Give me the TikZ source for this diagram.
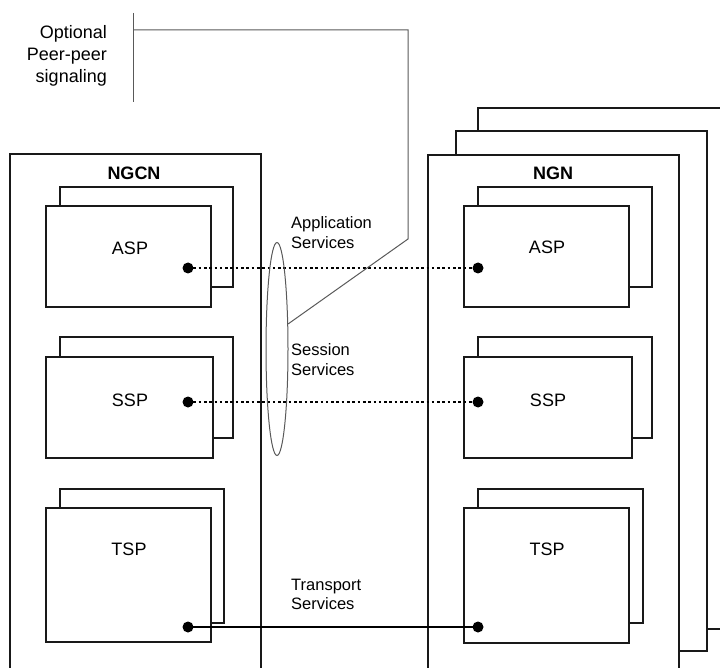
\documentclass[tikz,border=0pt]{standalone}
\usepackage{fontspec}
\setmainfont{Liberation Sans}
\usetikzlibrary{shapes.geometric}
\begin{document}
\begin{tikzpicture}[x=1pt,y=-1pt,
  frame/.style={draw=black!90, line width=1.2pt, fill=white},
  spbox/.style={draw=black!90, line width=1.2pt, fill=white},
  lbl/.style={font=\fontsize{18}{21}\selectfont, inner sep=0pt},
  ttl/.style={font=\fontsize{18}{21}\selectfont\bfseries, inner sep=0pt},
  svc/.style={font=\fontsize{16.5}{19.5}\selectfont, align=left, inner sep=0pt, anchor=west},
  dotend/.style={circle, fill=black, inner sep=0pt, minimum size=11pt},
  sig/.style={draw=black!65, line width=1pt},
  dotline/.style={line width=2.6pt, dash pattern=on 2.6pt off 2.7pt},
  solidline/.style={line width=2pt}]
\useasboundingbox (0,0) rectangle (720,668);
% ---------- right stacked frames ----------
\draw[frame] (478,690) -- (478,108) -- (740,108) -- (740,629) -- (478,629);
\draw[frame] (456,651) -- (456,131) -- (707,131) -- (707,651) -- cycle;
\draw[frame] (428,690) -- (428,155) -- (679,155) -- (679,690);
\node[ttl] (ngn) at (553,173) {NGN};
% ---------- left frame ----------
\draw[frame] (10,690) -- (10,154) -- (261,154) -- (261,690);
\node[ttl] (ngcn) at (134,173) {NGCN};
% ---------- left provider boxes ----------
\draw[spbox] (60,187) rectangle (233,287);
\draw[spbox] (46,206) rectangle (211,307);
\node[lbl] (lasp) at (130,248) {ASP};
\draw[spbox] (60,337) rectangle (233,438);
\draw[spbox] (46,357) rectangle (213,458);
\node[lbl] (lssp) at (130,400) {SSP};
\draw[spbox] (60,489) rectangle (224,623);
\draw[spbox] (46,508) rectangle (211,642);
\node[lbl] (ltsp) at (129,549) {TSP};
% ---------- right provider boxes ----------
\draw[spbox] (478,187) rectangle (652,287);
\draw[spbox] (464,206) rectangle (629,307);
\node[lbl] (rasp) at (547,247) {ASP};
\draw[spbox] (478,337) rectangle (652,438);
\draw[spbox] (464,357) rectangle (632,458);
\node[lbl] (rssp) at (548,400) {SSP};
\draw[spbox] (478,489) rectangle (643,623);
\draw[spbox] (464,508) rectangle (629,643);
\node[lbl] (rtsp) at (547,549) {TSP};
% ---------- connector end dots ----------
\node[dotend] (la) at (188,268) {};
\node[dotend] (ls) at (188,402) {};
\node[dotend] (lt) at (188,627) {};
\node[dotend] (ra) at (478,268) {};
\node[dotend] (rs) at (478,402) {};
\node[dotend] (rt) at (478,627) {};
\draw[dotline] (la.center) -- (ra.center);
\draw[dotline] (ls.center) -- (rs.center);
\draw[solidline] (lt.center) -- (rt.center);
% ---------- service labels ----------
\node[svc] (app) at (291,232.5) {Application\\Services};
\node[svc] (ses) at (291,359.5) {Session\\Services};
\node[svc] (trn) at (291,594.5) {Transport\\Services};
% ---------- ellipse and optional signaling ----------
\node[ellipse, draw=black!65, line width=1pt, minimum width=22pt, minimum height=213pt, inner sep=0pt] (ell) at (277,349) {};
\node[font=\fontsize{18}{22}\selectfont, align=right, inner sep=0pt, anchor=east] (opt) at (107,56) {Optional\\Peer-peer\\signaling};
\coordinate (brtop) at (133,13);
\coordinate (brbot) at (133,102);
\draw[sig] (brtop) -- (brbot);
\coordinate (sigstart) at (133,30);
\coordinate (sigcorner1) at (408,30);
\coordinate (sigcorner2) at (408,239);
\draw[sig] (sigstart) -- (sigcorner1) -- (sigcorner2) -- (ell.66);
\end{tikzpicture}
\end{document}
